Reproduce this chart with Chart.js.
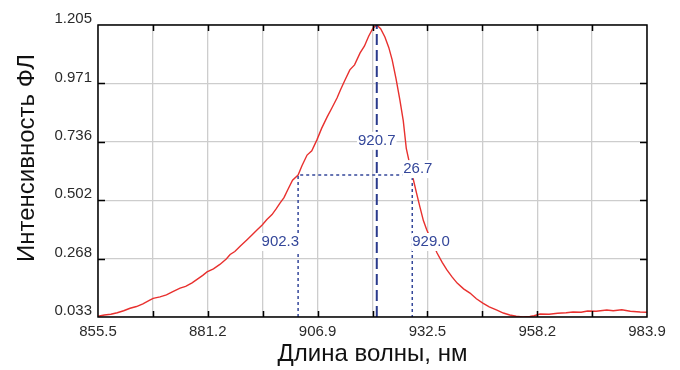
<!DOCTYPE html>
<html>
<head>
<meta charset="utf-8">
<script src="https://cdn.jsdelivr.net/npm/chart.js@4.4.1/dist/chart.umd.min.js"></script>
<style>
  html, body { margin: 0; padding: 0; background: #fff; }
  #wrap { width: 680px; height: 370px; position: relative; }
</style>
</head>
<body>
<div id="wrap"><canvas id="spectrum"></canvas></div>
<script>
// Photoluminescence spectrum
const wavelength = [
  855.5, 857.0, 858.5, 860.0, 861.5, 863.0, 864.5, 866.0, 867.5, 868.4,
  870.0, 871.5, 873.0, 874.7, 876.0, 877.5, 879.0, 880.0, 881.0, 882.5,
  884.0, 885.5, 886.4, 887.5, 888.8, 890.3, 891.5, 892.8, 893.9, 895.0,
  896.2, 897.2, 898.1, 899.0, 900.0, 901.0, 902.3, 903.2, 904.4, 905.5,
  906.7, 907.8, 909.1, 910.2, 911.4, 912.3, 913.3, 914.4, 915.5, 916.8,
  917.8, 918.8, 919.8, 920.7, 921.6, 922.6, 923.5, 924.3, 925.2, 926.1,
  926.9, 927.6, 928.3, 929.0, 930.0, 930.8, 931.6, 932.4, 933.6, 934.8,
  936.0, 937.1, 938.3, 939.5, 941.0, 942.5, 944.0, 945.5, 947.0, 948.8,
  950.3, 951.8, 953.3, 954.9, 956.5, 957.5, 958.9, 961.0, 963.0, 965.0,
  966.6, 968.5, 970.0, 972.0, 974.5, 976.0, 978.0, 980.0, 982.3, 983.9
];
const intensity = [
  0.036, 0.041, 0.044, 0.050, 0.058, 0.068, 0.075, 0.086, 0.100, 0.108,
  0.114, 0.122, 0.135, 0.149, 0.156, 0.170, 0.188, 0.200, 0.214, 0.226,
  0.244, 0.266, 0.284, 0.296, 0.318, 0.342, 0.362, 0.384, 0.402, 0.424,
  0.444, 0.468, 0.491, 0.512, 0.548, 0.582, 0.603, 0.640, 0.683, 0.700,
  0.744, 0.790, 0.836, 0.872, 0.912, 0.948, 0.985, 1.025, 1.045, 1.093,
  1.120, 1.160, 1.192, 1.205, 1.190, 1.157, 1.115, 1.065, 0.990, 0.904,
  0.820, 0.710, 0.655, 0.603, 0.530, 0.474, 0.420, 0.382, 0.336, 0.290,
  0.252, 0.222, 0.194, 0.169, 0.146, 0.129, 0.106, 0.089, 0.074, 0.061,
  0.049, 0.041, 0.036, 0.033, 0.035, 0.038, 0.045, 0.044, 0.048, 0.050,
  0.053, 0.052, 0.057, 0.056, 0.061, 0.058, 0.062, 0.056, 0.053, 0.052
];

// peak and half-width markers
const peakWl = 920.7;
const peakValue = 1.205;
const halfLeft = 902.3;
const halfRight = 929.0;
const fwhm = 26.7;

// axis ticks
const xTickValues = [855.5, 868.34, 881.18, 894.02, 906.86, 919.7, 932.54, 945.38, 958.22, 971.06, 983.9];
const xTickLabels = ['855.5', '', '881.2', '', '906.9', '', '932.5', '', '958.2', '', '983.9'];
const yTickValues = [0.033, 0.2674, 0.5018, 0.7362, 0.9706, 1.205];
const yTickLabels = ['0.033', '0.268', '0.502', '0.736', '0.971', '1.205'];

const FONT = '"Liberation Sans", Arial, sans-serif';
const markColor = '#34479a';

const halfValue = peakValue / 2;

// frame, inner tick marks, value labels and the vertical axis title
const markerPlugin = {
  id: 'markers',
  afterDatasetsDraw(chart) {
    const { ctx, chartArea: a, scales: { x, y } } = chart;
    ctx.save();

    ctx.strokeStyle = '#000';
    ctx.lineWidth = 1.5;
    ctx.beginPath();
    xTickValues.forEach((v, i) => {
      if (i === 0 || i === xTickValues.length - 1) return;
      const px = Math.round(x.getPixelForValue(v)) + 0.5;
      ctx.moveTo(px, a.bottom); ctx.lineTo(px, a.bottom - 6);
      ctx.moveTo(px, a.top); ctx.lineTo(px, a.top + 6);
    });
    yTickValues.forEach((v, i) => {
      if (i === 0 || i === yTickValues.length - 1) return;
      const py = Math.round(y.getPixelForValue(v)) + 0.5;
      ctx.moveTo(a.left, py); ctx.lineTo(a.left + 7, py);
      ctx.moveTo(a.right, py); ctx.lineTo(a.right - 7, py);
    });
    ctx.stroke();
    ctx.strokeRect(a.left, a.top, a.right - a.left, a.bottom - a.top);

    ctx.font = '15px ' + FONT;
    ctx.textBaseline = 'middle';
    const label = (text, px, py, align) => {
      const w = ctx.measureText(text).width;
      let left = px;
      if (align === 'center') left = px - w / 2;
      if (align === 'right') left = px - w;
      ctx.fillStyle = '#fff';
      ctx.fillRect(left - 1, py - 9, w + 2, 18);
      ctx.fillStyle = markColor;
      ctx.textAlign = 'left';
      ctx.fillText(text, left, py);
    };
    label(peakWl.toFixed(1), x.getPixelForValue(peakWl), y.getPixelForValue(0.74), 'center');
    label(fwhm.toFixed(1), x.getPixelForValue(halfRight) - 9, y.getPixelForValue(halfValue) - 6, 'left');
    label(halfLeft.toFixed(1), x.getPixelForValue(halfLeft) + 1, y.getPixelForValue(0.334), 'right');
    label(halfRight.toFixed(1), x.getPixelForValue(halfRight), y.getPixelForValue(0.334), 'left');

    ctx.restore();
  },
  afterDraw(chart) {
    const { ctx } = chart;
    ctx.save();
    ctx.translate(27, 158);
    ctx.rotate(-Math.PI / 2);
    ctx.font = '24px ' + FONT;
    ctx.fillStyle = '#111';
    ctx.textAlign = 'center';
    ctx.textBaseline = 'middle';
    ctx.fillText('Интенсивность ФЛ', 0, 0);
    ctx.restore();
  }
};

new Chart(document.getElementById('spectrum'), {
  type: 'line',
  data: {
    datasets: [
      {
        data: [{ x: halfLeft, y: yTickValues[0] }, { x: halfLeft, y: halfValue },
               { x: halfRight, y: halfValue }, { x: halfRight, y: yTickValues[0] }],
        borderColor: markColor,
        borderWidth: 1.5,
        borderDash: [3, 3],
        pointRadius: 0
      },
      {
        data: [{ x: peakWl, y: yTickValues[0] }, { x: peakWl, y: peakValue }],
        borderColor: '#2a3a8c',
        borderWidth: 2,
        borderDash: [11, 5],
        pointRadius: 0
      },
      {
        data: wavelength.map((w, i) => ({ x: w, y: intensity[i] })),
        borderColor: '#e8302e',
        borderWidth: 1.4,
        pointRadius: 0,
        tension: 0
      }
    ]
  },
  options: {
    responsive: true,
    maintainAspectRatio: false,
    animation: false,
    layout: { padding: { top: 25, right: 33, left: 0, bottom: 0 } },
    plugins: {
      legend: { display: false },
      tooltip: { enabled: false }
    },
    scales: {
      x: {
        type: 'linear',
        min: 855.5,
        max: 983.9,
        afterBuildTicks: s => { s.ticks = xTickValues.map(v => ({ value: v })); },
        afterFit: s => { s.height = 53; },
        grid: { color: '#cdcdcd', lineWidth: 1.3, drawTicks: false },
        border: { display: false },
        ticks: {
          autoSkip: false,
          maxRotation: 0,
          padding: 6,
          color: '#2a2a2a',
          font: { family: FONT, size: 15 },
          callback: (v, i) => xTickLabels[i]
        },
        title: {
          display: true,
          text: 'Длина волны, нм',
          color: '#111',
          font: { family: FONT, size: 24 },
          padding: { top: 0, bottom: 1 }
        }
      },
      y: {
        type: 'linear',
        min: 0.033,
        max: 1.205,
        afterBuildTicks: s => { s.ticks = yTickValues.map(v => ({ value: v })); },
        afterFit: s => { s.width = 98; },
        grid: { color: '#cdcdcd', lineWidth: 1.3, drawTicks: false },
        border: { display: false },
        ticks: {
          padding: 6,
          labelOffset: -6,
          color: '#2a2a2a',
          font: { family: FONT, size: 15 },
          callback: (v, i) => yTickLabels[i]
        }
      }
    }
  },
  plugins: [markerPlugin]
});
</script>
</body>
</html>
